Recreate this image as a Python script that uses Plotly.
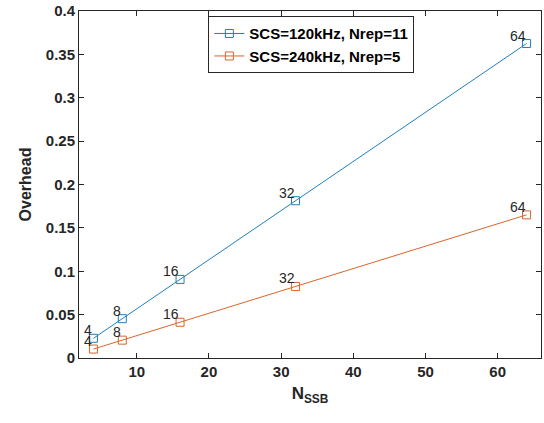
import plotly.graph_objects as go

n_ssb = [4, 8, 16, 32, 64]
overhead_120 = [0.0227, 0.0453, 0.0906, 0.1813, 0.3625]
overhead_240 = [0.0103, 0.0206, 0.0412, 0.0825, 0.1650]
labels = ["4", "8", "16", "32", "64"]
series_names = ["SCS=120kHz, Nrep=11", "SCS=240kHz, Nrep=5"]
colors = ["#1f7fbf", "#d9652b"]
x_ticks = [10, 20, 30, 40, 50, 60]
y_ticks = [0, 0.05, 0.1, 0.15, 0.2, 0.25, 0.3, 0.35, 0.4]

FONT = "Liberation Sans, Arial, sans-serif"

fig = go.Figure()
for ys, name, c in zip([overhead_120, overhead_240], series_names, colors):
    fig.add_trace(go.Scatter(
        x=n_ssb, y=ys, name=name, mode="lines+markers",
        line=dict(color=c, width=1),
        marker=dict(symbol="square-open", size=8, color=c, line=dict(width=1, color=c)),
    ))
    for xv, yv, lab in zip(n_ssb, ys, labels):
        fig.add_annotation(
            x=xv, y=yv, text=lab, showarrow=False,
            xanchor="right", yanchor="bottom", xshift=1, yshift=-2,
            font=dict(family=FONT, size=14, color="#262626"),
        )

axis_common = dict(
    showline=True, linecolor="#262626", linewidth=1, mirror="ticks",
    ticks="inside", ticklen=5, tickcolor="#262626", showgrid=False, zeroline=False,
    tickfont=dict(family=FONT, size=15, color="#262626", weight="bold"),
)

fig.update_layout(
    width=544, height=423,
    margin=dict(l=79, r=2, t=9, b=65),
    paper_bgcolor="white", plot_bgcolor="white",
    showlegend=True,
    legend=dict(
        x=0.28, y=0.985, xanchor="left", yanchor="top",
        bordercolor="#262626", borderwidth=1, bgcolor="white",
        font=dict(family=FONT, size=15, color="#000000", weight="bold"),
        tracegroupgap=0, itemwidth=30,
    ),
    xaxis=dict(range=[2, 66], tickvals=x_ticks, ticktext=[str(v) for v in x_ticks],
               title=dict(text="N<sub>SSB</sub>", standoff=8,
                          font=dict(family=FONT, size=17, color="#262626", weight="bold")),
               **axis_common),
    yaxis=dict(range=[0, 0.4], tickmode="array", tickvals=y_ticks,
               ticktext=[f"{v:g}" for v in y_ticks],
               title=dict(text="Overhead", standoff=10,
                          font=dict(family=FONT, size=16, color="#262626", weight="bold")),
               **axis_common),
)

fig.write_html("out.html")
